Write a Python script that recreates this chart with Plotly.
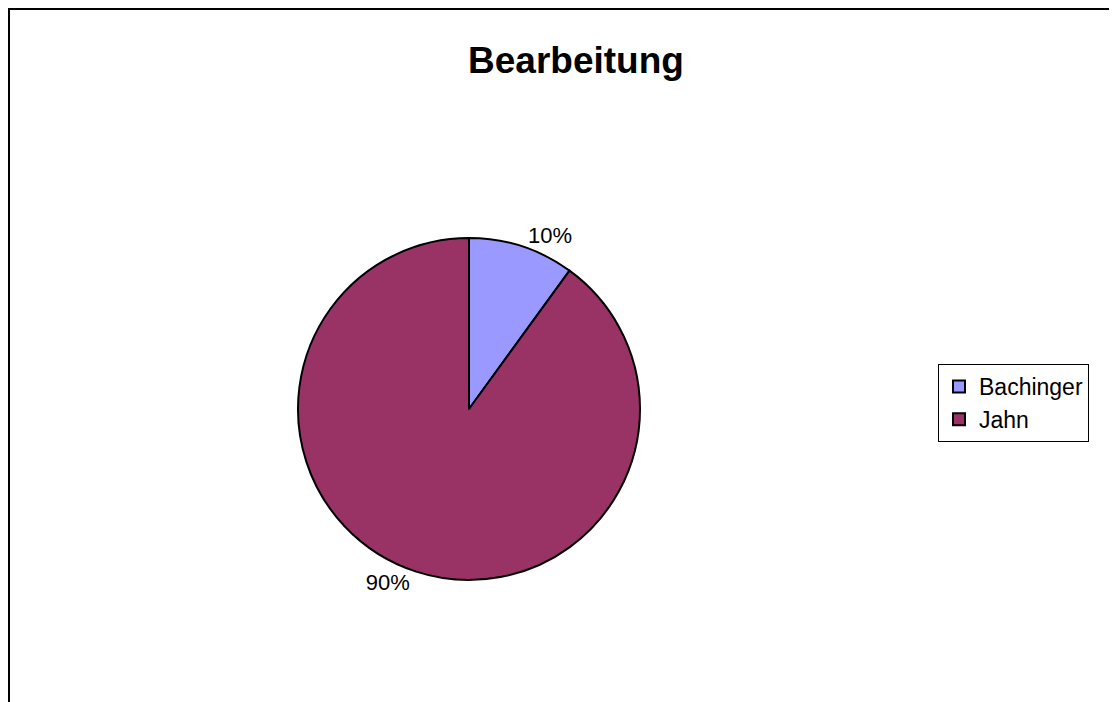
import plotly.graph_objects as go

labels = ["Bachinger", "Jahn"]
values = [10, 90]
colors = ["#9999FF", "#993366"]

W, H = 1117, 702
FONT = "Liberation Sans, Arial, sans-serif"

# page body adds an 8px offset; positions below are relative to the figure
cx, cy, r = 461, 401, 171

fig = go.Figure(go.Pie(
    labels=labels,
    values=values,
    sort=False,
    direction="clockwise",
    rotation=0,
    marker=dict(colors=colors, line=dict(color="black", width=2)),
    textinfo="percent",
    textposition="outside",
    textfont=dict(family=FONT, size=22, color="black"),
    domain=dict(x=[(cx - r) / W, (cx + r) / W], y=[(H - cy - r) / H, (H - cy + r) / H]),
    showlegend=True,
))

fig.update_layout(
    width=W, height=H,
    margin=dict(l=0, r=0, t=0, b=0),
    paper_bgcolor="white",
    plot_bgcolor="white",
    font=dict(family=FONT, color="black"),
    title=dict(text="<b>Bearbeitung</b>", x=568 / W, xanchor="center",
               y=1 - 52 / H, yanchor="middle",
               font=dict(size=37, family=FONT, color="black")),
    legend=dict(x=930 / W, y=1 - 356 / H, xanchor="left", yanchor="top",
                bordercolor="black", borderwidth=1, bgcolor="white",
                font=dict(size=23, family=FONT, color="black"),
                entrywidth=135, entrywidthmode="pixels",
                tracegroupgap=0, itemsizing="constant"),
    shapes=[
        dict(type="line", xref="paper", yref="paper", x0=0, x1=1.0, y0=1 - 1 / H, y1=1 - 1 / H,
             line=dict(color="black", width=2)),
        dict(type="line", xref="paper", yref="paper", x0=1 / W, x1=1 / W, y0=0, y1=1,
             line=dict(color="black", width=2)),
    ],
)

fig.write_html("out.html")
